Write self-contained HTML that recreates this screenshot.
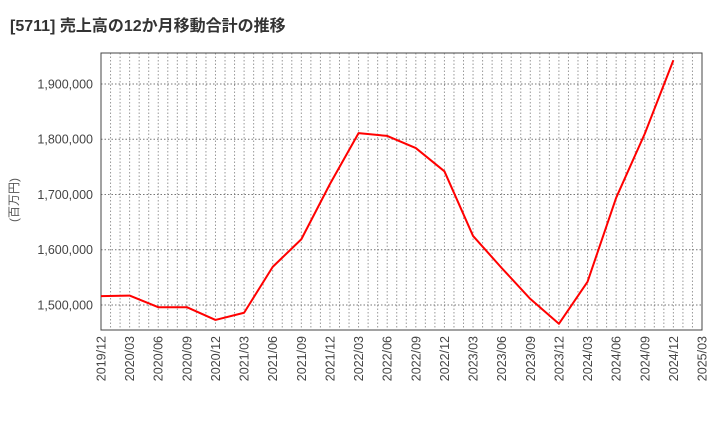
<!DOCTYPE html>
<html><head><meta charset="utf-8"><style>
body{margin:0;background:#fff;font-family:"Liberation Sans","Noto Sans CJK JP",sans-serif;}
</style></head><body>
<svg id="c" width="720" height="440" xmlns="http://www.w3.org/2000/svg">
<text x="10" y="31" font-size="16" font-weight="bold" fill="#333">[5711]  売上高の12か月移動合計の推移</text>
<text transform="translate(18,200) rotate(-90)" text-anchor="middle" font-size="12" fill="#555">(百万円)</text>
<g id="grid"></g><g id="axes"></g><g id="series"></g>
</svg>
<script>
const categories=["2019/12","2020/03","2020/06","2020/09","2020/12","2021/03","2021/06","2021/09","2021/12","2022/03","2022/06","2022/09","2022/12","2023/03","2023/06","2023/09","2023/12","2024/03","2024/06","2024/09","2024/12"];
const values=[1516000,1517000,1496000,1496000,1473000,1486000,1569000,1619000,1719000,1811000,1806000,1784000,1742000,1625000,1567000,1511000,1466000,1542000,1694000,1810000,1943000];
const xTickLabels=["2019/12","2020/03","2020/06","2020/09","2020/12","2021/03","2021/06","2021/09","2021/12","2022/03","2022/06","2022/09","2022/12","2023/03","2023/06","2023/09","2023/12","2024/03","2024/06","2024/09","2024/12","2025/03"];
const yTicks=[1500000,1600000,1700000,1800000,1900000];
const L=101,R=702,T=53,B=330,months=63,yMin=1454750,yMax=1956100;
const NS="http://www.w3.org/2000/svg";
const xm=m=>L+(R-L)*m/months;
const y=v=>B-(v-yMin)/(yMax-yMin)*(B-T);
function mk(t,a,p){const e=document.createElementNS(NS,t);for(const k in a)e.setAttribute(k,a[k]);p.appendChild(e);return e;}
const g=document.getElementById('grid'),ax=document.getElementById('axes'),s=document.getElementById('series');
for(let m=1;m<months;m++){const l=mk('line',{x1:xm(m),x2:xm(m),y1:T,y2:B,stroke:'#999','stroke-dasharray':'1.5,2','stroke-width':1},g);

}
yTicks.forEach(v=>{const l=mk('line',{x1:L,x2:R,y1:y(v),y2:y(v),stroke:'#777','stroke-dasharray':'1.5,2','stroke-width':1},g);


const t=mk('text',{x:L-8,y:y(v)+4.5,'text-anchor':'end','font-size':12.5,fill:'#444'},ax);t.textContent=v.toLocaleString('en-US');

});
xTickLabels.forEach((c,i)=>{const x=xm(i*3);const t=mk('text',{transform:`translate(${x+4.5},${B+6}) rotate(-90)`,'text-anchor':'end','font-size':12.5,fill:'#444'},ax);t.textContent=c;

});
const fr=mk('rect',{x:L,y:T,width:R-L,height:B-T,fill:'none',stroke:'#444','stroke-width':1},ax);


const pts=values.map((v,i)=>xm(i*3)+','+y(v)).join(' ');
const pl=mk('polyline',{points:pts,fill:'none',stroke:'#f00','stroke-width':2,'stroke-linejoin':'round'},s);


</script>
</body></html>
